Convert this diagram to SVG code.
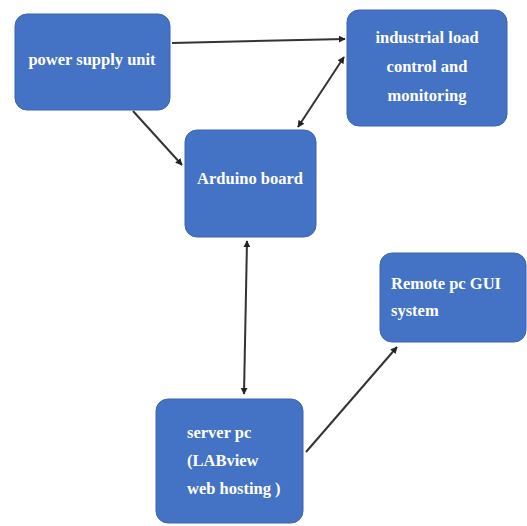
<svg xmlns="http://www.w3.org/2000/svg" width="527" height="526" viewBox="0 0 527 526">
<style>
.box{fill:#4472C4;stroke:#3b65b0;stroke-width:1}
.t{font-family:"Liberation Serif","Times New Roman",serif;font-weight:bold;font-size:16.5px;fill:#ffffff}
.c{stroke:#333333;stroke-width:2;fill:none}
</style>
<defs>
<marker id="ah" viewBox="0 0 10 10" refX="9" refY="5" markerWidth="3.5" markerHeight="3.5" orient="auto-start-reverse">
<path d="M0,0 L10,5 L0,10 z" fill="#222222"/>
</marker>
</defs>
<rect width="527" height="526" fill="#ffffff"/>
<g id="connectors">
<line class="c" x1="172" y1="43" x2="345" y2="39" marker-end="url(#ah)"/>
<line class="c" x1="298" y1="127" x2="344" y2="57" marker-start="url(#ah)" marker-end="url(#ah)"/>
<line class="c" x1="133" y1="111" x2="182" y2="165" marker-end="url(#ah)"/>
<line class="c" x1="247" y1="241" x2="244" y2="394" marker-start="url(#ah)" marker-end="url(#ah)"/>
<line class="c" x1="306" y1="452" x2="397" y2="347" marker-end="url(#ah)"/>
</g>
<g id="power">
<rect class="box" x="15" y="14" width="155" height="96" rx="12"/>
<text class="t" x="92" y="65" text-anchor="middle">power supply unit</text>
</g>
<g id="industrial">
<rect class="box" x="347" y="10" width="160" height="116" rx="12"/>
<text class="t" x="427" y="43" text-anchor="middle">industrial load</text>
<text class="t" x="427" y="72" text-anchor="middle">control and</text>
<text class="t" x="427" y="101" text-anchor="middle">monitoring</text>
</g>
<g id="arduino">
<rect class="box" x="185" y="130" width="131" height="107" rx="12"/>
<text class="t" x="250" y="184" text-anchor="middle">Arduino board</text>
</g>
<g id="remote">
<rect class="box" x="380" y="253" width="146" height="89" rx="12"/>
<text class="t" x="391" y="289">Remote pc GUI</text>
<text class="t" x="391" y="316">system</text>
</g>
<g id="server">
<rect class="box" x="156" y="399" width="147" height="124" rx="12"/>
<text class="t" x="187" y="438">server pc</text>
<text class="t" x="187" y="466">(LABview</text>
<text class="t" x="187" y="494">web hosting )</text>
</g>
</svg>
